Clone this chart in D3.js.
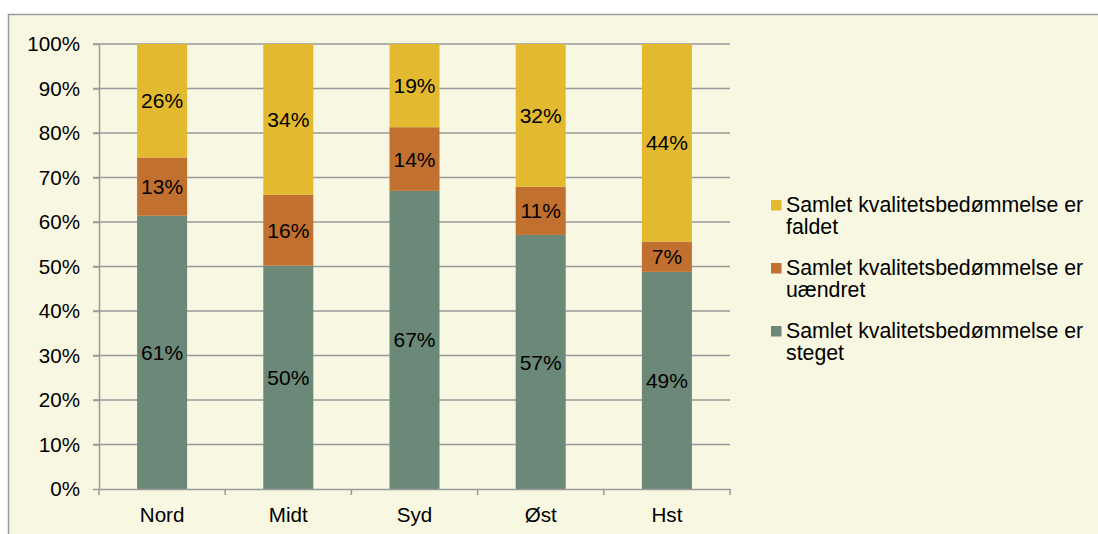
<!DOCTYPE html>
<html>
<head>
<meta charset="utf-8">
<script src="https://cdn.jsdelivr.net/npm/d3@7"></script>
<style>
  html, body { margin: 0; padding: 0; background: #fff; }
  svg text { font-family: "Liberation Sans", Arial, sans-serif; fill: #000; }
  .axis path, .axis line { stroke: #9a9a9a; stroke-width: 1.5; }
  .axis text { font-size: 20.6px; }
</style>
</head>
<body>
<div id="chart"></div>
<script>
const CATEGORIES = ["Nord", "Midt", "Syd", "Øst", "Hst"];
const STEGET = [61.4, 50.2, 67.0, 57.1, 48.8];
const UAENDRET = [13.1, 15.9, 14.3, 10.8, 6.8];
const FALDET = [25.5, 33.9, 18.7, 32.1, 44.4];
const SERIES_NAMES = ["Samlet kvalitetsbedømmelse er steget",
                      "Samlet kvalitetsbedømmelse er uændret",
                      "Samlet kvalitetsbedømmelse er faldet"];
const Y_TICKS = [0, 10, 20, 30, 40, 50, 60, 70, 80, 90, 100];

const CVIS = {
    W: 1098,
    H: 534,
    PLOT_X0: 99,
    PLOT_X1: 730,
    PLOT_Y0: 44,
    PLOT_Y1: 489,
    BAR_W: 50,
    LEGEND_X: 771,
    LEGEND_Y: 200,
    LEGEND_STEP: 63,
    LINE_H: 22,
    FONT: 21,
    LEG_FONT: 21.3,
};
const COLORS = ["#6b8878", "#c27030", "#e3b930"];

/* ---------------------------------- */
var svg = d3.select("#chart").append("svg")
            .attr("width", CVIS.W)
            .attr("height", CVIS.H);

// outer frame
svg.append("rect")
   .attr("x", 8.5).attr("y", 14.5)
   .attr("width", CVIS.W + 10).attr("height", CVIS.H + 10)
   .attr("fill", "#f8f7e2")
   .attr("stroke", "#9a9a9a")
   .attr("stroke-width", 1.5);

var x = d3.scaleBand()
          .domain(CATEGORIES)
          .range([CVIS.PLOT_X0, CVIS.PLOT_X1]);
var y = d3.scaleLinear()
          .domain([0, 100])
          .range([CVIS.PLOT_Y1, CVIS.PLOT_Y0]);

// gridlines
svg.append("g")
   .selectAll("line")
   .data(Y_TICKS.slice(1))
   .enter()
   .append("line")
   .attr("x1", CVIS.PLOT_X0 - 6)
   .attr("x2", CVIS.PLOT_X1)
   .attr("y1", (d) => y(d))
   .attr("y2", (d) => y(d))
   .attr("stroke", "#9a9a9a")
   .attr("stroke-width", 1.5);

// stacked segments
var rows = CATEGORIES.map((c, i) => ({cat: c, steget: STEGET[i], uaendret: UAENDRET[i], faldet: FALDET[i]}));
var stack = d3.stack().keys(["steget", "uaendret", "faldet"])(rows);

var layers = svg.append("g")
                .selectAll("g.layer")
                .data(stack)
                .enter()
                .append("g")
                .classed("layer", true)
                .attr("fill", (d, i) => COLORS[i]);
layers.selectAll("rect")
      .data((d) => d)
      .enter()
      .append("rect")
      .attr("x", (d) => x(d.data.cat) + x.bandwidth()/2 - CVIS.BAR_W/2)
      .attr("y", (d) => y(d[1]))
      .attr("width", CVIS.BAR_W)
      .attr("height", (d) => y(d[0]) - y(d[1]));
layers.selectAll("text")
      .data((d) => d)
      .enter()
      .append("text")
      .attr("x", (d) => x(d.data.cat) + x.bandwidth()/2)
      .attr("y", (d) => (y(d[0]) + y(d[1]))/2)
      .attr("dy", "0.36em")
      .attr("text-anchor", "middle")
      .style("font-size", CVIS.FONT + "px")
      .text((d) => Math.round(d[1] - d[0]) + "%");

// axes
svg.append("g")
   .classed("axis", true)
   .attr("transform", "translate(" + CVIS.PLOT_X0 + ",0)")
   .call(d3.axisLeft(y).tickValues(Y_TICKS).tickFormat((d) => d + "%").tickSize(6).tickPadding(13).tickSizeOuter(0));

var xAxis = svg.append("g")
               .classed("axis", true)
               .attr("transform", "translate(0," + CVIS.PLOT_Y1 + ")")
               .call(d3.axisBottom(x).tickSize(0).tickPadding(18).tickSizeOuter(0));
xAxis.selectAll("line.sep")
     .data(d3.range(CATEGORIES.length + 1))
     .enter()
     .append("line")
     .classed("sep", true)
     .attr("x1", (d) => CVIS.PLOT_X0 + d*x.step())
     .attr("x2", (d) => CVIS.PLOT_X0 + d*x.step())
     .attr("y1", 0)
     .attr("y2", 6);

// legend (top to bottom: faldet, uændret, steget)
var legendData = SERIES_NAMES.map((n, i) => ({name: n, color: COLORS[i]})).reverse();
var lg = svg.append("g")
            .selectAll("g.leg")
            .data(legendData)
            .enter()
            .append("g")
            .classed("leg", true)
            .attr("transform", (d, i) => "translate(" + CVIS.LEGEND_X + "," + (CVIS.LEGEND_Y + i*CVIS.LEGEND_STEP) + ")");
lg.append("rect")
  .attr("width", 10.5)
  .attr("height", 10.5)
  .attr("fill", (d) => d.color);
var lt = lg.append("text")
           .attr("x", 15)
           .style("font-size", CVIS.LEG_FONT + "px");
lt.append("tspan")
  .attr("x", 15).attr("y", 12)
  .text((d) => d.name.split(" ").slice(0, 3).join(" "));
lt.append("tspan")
  .attr("x", 15).attr("y", 12 + CVIS.LINE_H)
  .text((d) => d.name.split(" ").slice(3).join(" "));
</script>
</body>
</html>
